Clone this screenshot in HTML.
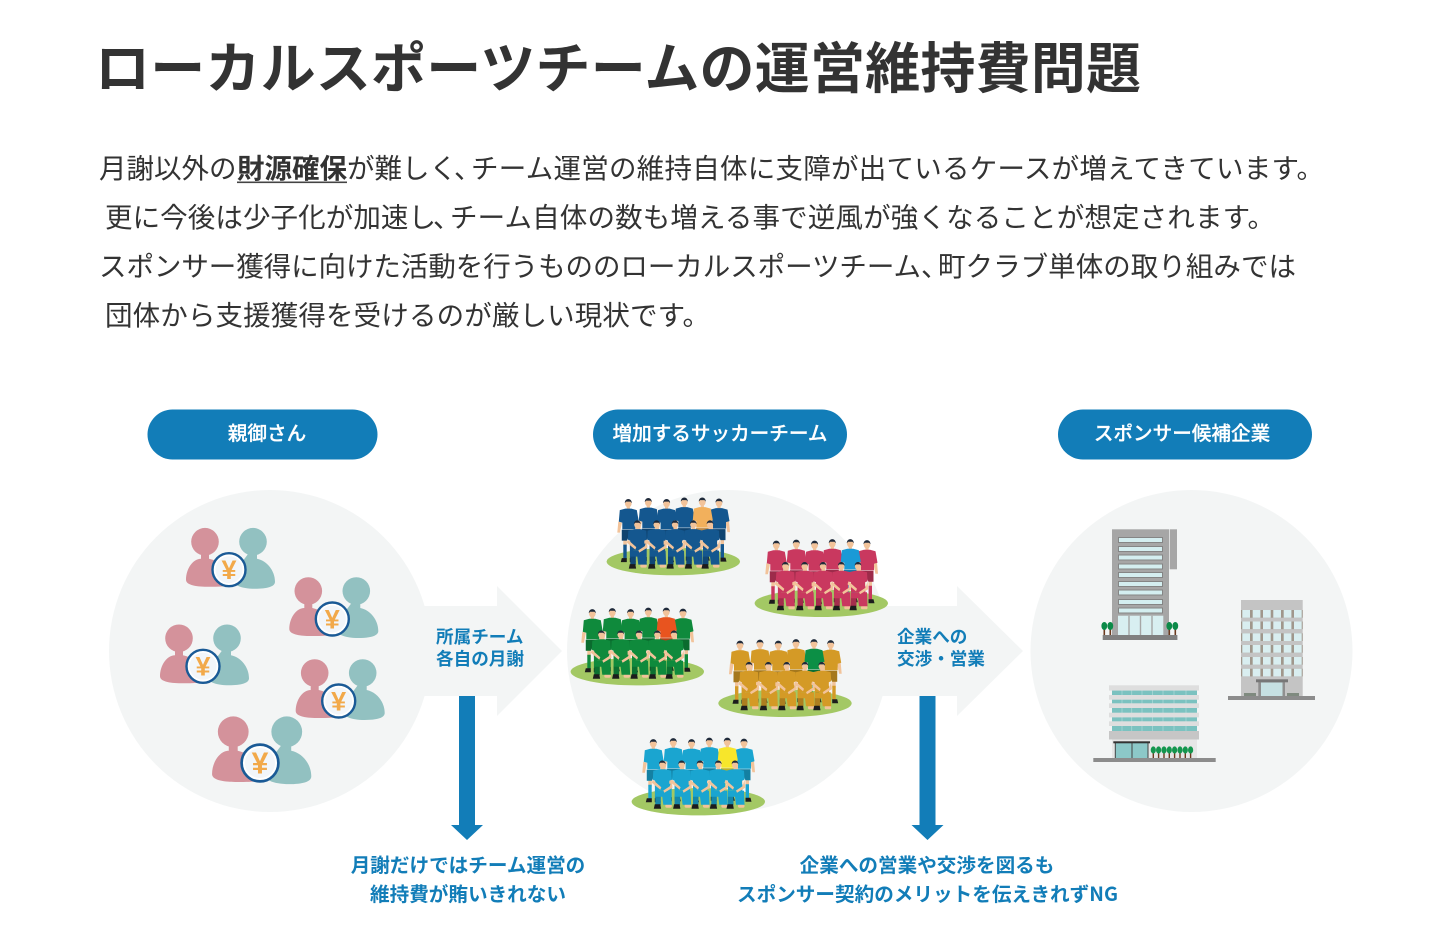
<!DOCTYPE html>
<html lang="ja"><head><meta charset="utf-8"><title>ローカルスポーツチームの運営維持費問題</title>
<style>
html,body{margin:0;padding:0;background:#fff;width:1440px;height:943px;overflow:hidden}
svg{display:block}
text{font-family:"Liberation Sans","Noto Sans CJK JP",sans-serif}
.t{font-size:55px;font-weight:700;fill:#333}
.b{font-size:27.5px;font-weight:400;fill:#333}
.bb{font-size:27.5px;font-weight:700;fill:#333}
.p{font-size:19.6px;font-weight:500;fill:#fff;stroke:#fff;stroke-width:.25;text-anchor:middle}
.a{font-size:17.6px;font-weight:700;fill:#127db8}
.c{font-size:19.6px;font-weight:700;fill:#127db8;text-anchor:middle}
.y{font-size:27px;font-weight:700;fill:#f2a94a;text-anchor:middle}
</style></head><body>
<svg width="1440" height="943" viewBox="0 0 1440 943" xmlns="http://www.w3.org/2000/svg">
<defs>
<symbol id="st" overflow="visible" viewBox="0 0 1 1" width="1" height="1">
  <path d="M-5-23h3.500v8H-5zM1.500-23H5v8H1.500z" fill="#f2c39a"/>
  <path d="M-5-17h3.400v14H-5zM1.600-17H5v14H1.600z" fill="currentColor"/>
  <path d="M-6.500-3.500h5V.5h-6zM1.500-3.500h5l1 4h-6z" fill="#1c1c1c"/>
  <path d="M-6.500-32h13v11h-5l-1.500-3-1.500 3h-5z" fill="currentColor"/>
  <path d="M-6.500-32h13v11h-5l-1.500-3-1.500 3h-5z" fill="#000" opacity=".22"/>
  <rect x="-1.600" y="-55" width="3.200" height="4" fill="#f2c39a"/>
  <path d="M-10-40l-1 11h2.600l2-10zM10-40l1 11H8.400l-2-10z" fill="#f2c39a"/>
  <path d="M-8.500-51.500L-3-53h6l5.500 1.500 2 11.500-3.500 1v6.500h-13V-39l-3.500-1z" fill="currentColor"/>
  <ellipse cx="0" cy="-58" rx="3.300" ry="3.800" fill="#f2c39a"/>
  <path d="M-3.500-58.500c0-5.500 7-5.500 7 0l-1.300-1.500h-4.400z" fill="#1f2a3a"/>
</symbol>
<symbol id="kn" overflow="visible" viewBox="0 0 1 1" width="1" height="1">
  <rect x="3" y="2.500" width="6.500" height="3.500" rx="1.600" fill="#f2c39a"/>
  <path d="M-7-6h5.500v9.500H-7z" fill="currentColor"/>
  <path d="M-7-6h5.500v9.500H-7z" fill="#000" opacity=".18"/>
  <path d="M-7.500 2.500h5.500l.8 4.500H-8.500z" fill="#1c1c1c"/>
  <path d="M-7-11H9l.5 14H1L0-5h-7z" fill="currentColor"/>
  <rect x="-1.500" y="-35" width="3" height="4" fill="#f2c39a"/>
  <path d="M-9-31l6-1.500h6l6 1.500.5 9-2.500 1v10H-7v-10l-2.500-1z" fill="currentColor"/>
  <path d="M-9.500-22L-1-14.500-2-12l-8.500-7zM9.500-22l.7 8-8.200 5-1-2.200 6.500-4.300z" fill="#f2c39a"/>
  <ellipse cx="0" cy="-37" rx="3.100" ry="3.600" fill="#f2c39a"/>
  <path d="M-3.300-37.500c0-5 6.600-5 6.600 0l-1.300-1.400h-4z" fill="#1f2a3a"/>
</symbol>
<g id="team">
  <use href="#st" x="-45" y="0"/><use href="#st" x="-25" y="-1"/><use href="#st" x="-6.700" y="0"/>
  <use href="#st" x="11" y="-1.500"/><use href="#st" x="45.700" y="-.5"/>
</g>
<g id="front">
  <use href="#kn" x="-36" y="0"/><use href="#kn" x="-16.700" y="0"/><use href="#kn" x="1.700" y="0"/>
  <use href="#kn" x="20" y="0"/><use href="#kn" x="36.700" y="0"/>
</g>
<symbol id="ppl" overflow="visible" viewBox="0 0 1 1" width="1" height="1">
  <circle cx="24" cy="-28" r="13.800" fill="#92c1c1"/>
  <path d="M20-17h8v6c10 2 18 12 18 23 0 5-8 7-20 7-14 0-24-4-24-12z" fill="#92c1c1"/>
  <circle cx="-24" cy="-28" r="13.800" fill="#d4929b"/>
  <path d="M-28-17h8v6c10 2 18 10 18 18v9c-4 1-12 1-20 1-12 0-21-2-21-7 0-11 7-21 15-21z" fill="#d4929b"/>
  <circle cx="0" cy="0" r="16.500" fill="#fff" stroke="#1a5a96" stroke-width="2.400"/>
  <circle cx="0" cy="0" r="13.500" fill="#f2f6fa"/>
</symbol>
</defs>

<text class="t" x="95" y="88" textLength="1046" lengthAdjust="spacing">ローカルスポーツチームの運営維持費問題</text>

<text class="b" x="99" y="178">月謝以外の</text>
<text class="bb" x="237" y="178" textLength="110">財源確保</text>
<rect x="237" y="181.500" width="110" height="1.600" fill="#444"/>
<text class="b" x="347" y="178" textLength="110">が難しく</text>
<text class="b" x="454" y="178">、</text>
<text class="b" x="471" y="178" textLength="853">チーム運営の維持自体に支障が出ているケースが増えてきています。</text>
<text class="b" x="105" y="227" textLength="331">更に今後は少子化が加速し</text>
<text class="b" x="433" y="227">、</text>
<text class="b" x="450" y="227" textLength="825">チーム自体の数も増える事で逆風が強くなることが想定されます。</text>
<text class="b" x="99" y="276" textLength="822">スポンサー獲得に向けた活動を行うもののローカルスポーツチーム</text>
<text class="b" x="921" y="276">、</text>
<text class="b" x="938" y="276" textLength="358">町クラブ単体の取り組みでは</text>
<text class="b" x="105" y="325" textLength="605">団体から支援獲得を受けるのが厳しい現状です。</text>

<rect x="147.500" y="409.500" width="230" height="50" rx="25" fill="#127db8"/>
<rect x="593" y="409.500" width="254" height="50" rx="25" fill="#127db8"/>
<rect x="1058" y="409.500" width="254" height="50" rx="25" fill="#127db8"/>
<text class="p" x="267" y="440">親御さん</text>
<text class="p" x="720" y="440">増加するサッカーチーム</text>
<text class="p" x="1182" y="440">スポンサー候補企業</text>

<g fill="#f3f5f5">
<circle cx="270" cy="651" r="161"/><circle cx="728" cy="651" r="161"/><circle cx="1191.500" cy="651" r="161"/>
<path d="M420 606h77v-20l65 65-65 65v-20h-77z"/>
<path d="M880 606h77v-20l66 65-66 65v-20h-77z"/>
</g>

<!-- people -->
<use href="#ppl" x="229" y="569.700"/><text class="y" x="229" y="579">¥</text>
<use href="#ppl" x="332.300" y="619"/><text class="y" x="332.300" y="628.300">¥</text>
<use href="#ppl" x="203" y="666.300"/><text class="y" x="203" y="675.600">¥</text>
<use href="#ppl" x="338.700" y="701"/><text class="y" x="338.700" y="710.300">¥</text>
<g transform="translate(260 763) scale(1.115)"><use href="#ppl"/><text class="y" x="0" y="9.300">¥</text></g>

<!-- arrow text -->
<text class="a" x="436" y="643">所属チーム</text>
<text class="a" x="436" y="665">各自の月謝</text>
<text class="a" x="897" y="643">企業への</text>
<text class="a" x="897" y="665">交渉・営業</text>

<!-- blue arrows -->
<path d="M459 696h16v129h8l-16 15-16-15h8z" fill="#127db8"/>
<path d="M919.500 696h16v129h8l-16 15-16-15h8z" fill="#127db8"/>
<text class="c" x="468" y="872">月謝だけではチーム運営の</text>
<text class="c" x="468" y="901">維持費が賄いきれない</text>
<text class="c" x="927" y="872">企業への営業や交渉を図るも</text>
<text class="c" x="927.500" y="901" textLength="381" lengthAdjust="spacing" text-anchor="middle" style="font-family:'Noto Sans CJK JP',sans-serif">スポンサー契約のメリットを伝えきれずNG</text>

<!-- teams -->
<g transform="translate(673.300 561.600)" style="color:#14578f">
  <ellipse rx="66.700" ry="13.700" fill="#a3c864"/>
  <use href="#team"/><use href="#st" x="29" y="-1.500" style="color:#f2b05c"/><use href="#front"/>
</g>
<g transform="translate(821.300 603.300)" style="color:#c9385f">
  <ellipse rx="66.700" ry="13.700" fill="#a3c864"/>
  <use href="#team"/><use href="#st" x="29" y="-1.500" style="color:#1a9ad6"/><use href="#front"/>
</g>
<g transform="translate(637.300 671.700)" style="color:#0f8a3c">
  <ellipse rx="66.700" ry="13.700" fill="#a3c864"/>
  <use href="#team"/><use href="#st" x="29" y="-1.500" style="color:#e8541f"/><use href="#front"/>
</g>
<g transform="translate(785 703.300)" style="color:#d49a26">
  <ellipse rx="66.700" ry="13.700" fill="#a3c864"/>
  <use href="#team"/><use href="#st" x="29" y="-1.500" style="color:#0c8f45"/><use href="#front"/>
</g>
<g transform="translate(698.300 801.700)" style="color:#1aa5d0">
  <ellipse rx="66.700" ry="13.700" fill="#a3c864"/>
  <use href="#team"/><use href="#st" x="29" y="-1.500" style="color:#f7e62b"/><use href="#front"/>
</g>

<!-- building 1 -->
<g>
<rect x="1112" y="529.300" width="57" height="106" fill="#a6a6a6"/>
<rect x="1169.700" y="529.300" width="7.300" height="40" fill="#a6a6a6"/>
<g fill="#d4eef0" stroke="#858585" stroke-width="1">
<rect x="1118.500" y="537.500" width="44" height="5"/><rect x="1118.500" y="546.500" width="44" height="5"/>
<rect x="1118.500" y="555" width="44" height="5"/><rect x="1118.500" y="564" width="44" height="5"/>
<rect x="1118.500" y="572.500" width="44" height="5"/><rect x="1118.500" y="581.500" width="44" height="5"/>
<rect x="1118.500" y="590" width="44" height="5"/><rect x="1118.500" y="599.500" width="44" height="5"/>
<rect x="1118.500" y="608" width="44" height="5"/>
</g>
<rect x="1118" y="615.700" width="45.300" height="19.300" fill="#d8eff1"/>
<path d="M1129 615.700v19.300M1140.500 615.700v19.300M1152 615.700v19.300" stroke="#a6a6a6" stroke-width="1.400"/>
<path d="M1104.300 628v7M1110.300 628v7M1169.300 628v7M1175.300 628v7" stroke="#6b3a1e" stroke-width="1.600"/>
<g fill="#0b8a48"><ellipse cx="1104.300" cy="626" rx="2.900" ry="4"/><ellipse cx="1110.300" cy="626" rx="2.900" ry="4"/><ellipse cx="1169.300" cy="626" rx="2.900" ry="4"/><ellipse cx="1175.300" cy="626" rx="2.900" ry="4"/></g>
<rect x="1102.700" y="635" width="74.700" height="5" fill="#808080"/>
</g>

<!-- building 2 -->
<g>
<rect x="1241" y="600" width="61.700" height="96" fill="#c4c4c4"/>
<g fill="#a0978c">
<rect x="1241" y="610" width="61.700" height="7.700"/><rect x="1241" y="621.500" width="61.700" height="7.700"/><rect x="1241" y="633.300" width="61.700" height="7.700"/><rect x="1241" y="645" width="61.700" height="7.700"/><rect x="1241" y="657" width="61.700" height="7.700"/><rect x="1241" y="668.700" width="61.700" height="7.700"/>
</g>
<g fill="#d9eef0">
<rect x="1242.300" y="610" width="7.700" height="7.700"/><rect x="1252.700" y="610" width="7.700" height="7.700"/><rect x="1263" y="610" width="7.700" height="7.700"/><rect x="1273.300" y="610" width="7.700" height="7.700"/><rect x="1283.700" y="610" width="7.700" height="7.700"/><rect x="1294" y="610" width="7.700" height="7.700"/>
<rect x="1242.300" y="621.500" width="7.700" height="7.700"/><rect x="1252.700" y="621.500" width="7.700" height="7.700"/><rect x="1263" y="621.500" width="7.700" height="7.700"/><rect x="1273.300" y="621.500" width="7.700" height="7.700"/><rect x="1283.700" y="621.500" width="7.700" height="7.700"/><rect x="1294" y="621.500" width="7.700" height="7.700"/>
<rect x="1242.300" y="633.300" width="7.700" height="7.700"/><rect x="1252.700" y="633.300" width="7.700" height="7.700"/><rect x="1263" y="633.300" width="7.700" height="7.700"/><rect x="1273.300" y="633.300" width="7.700" height="7.700"/><rect x="1283.700" y="633.300" width="7.700" height="7.700"/><rect x="1294" y="633.300" width="7.700" height="7.700"/>
<rect x="1242.300" y="645" width="7.700" height="7.700"/><rect x="1252.700" y="645" width="7.700" height="7.700"/><rect x="1263" y="645" width="7.700" height="7.700"/><rect x="1273.300" y="645" width="7.700" height="7.700"/><rect x="1283.700" y="645" width="7.700" height="7.700"/><rect x="1294" y="645" width="7.700" height="7.700"/>
<rect x="1242.300" y="657" width="7.700" height="7.700"/><rect x="1252.700" y="657" width="7.700" height="7.700"/><rect x="1263" y="657" width="7.700" height="7.700"/><rect x="1273.300" y="657" width="7.700" height="7.700"/><rect x="1283.700" y="657" width="7.700" height="7.700"/><rect x="1294" y="657" width="7.700" height="7.700"/>
<rect x="1242.300" y="668.700" width="7.700" height="7.700"/><rect x="1252.700" y="668.700" width="7.700" height="7.700"/><rect x="1263" y="668.700" width="7.700" height="7.700"/><rect x="1273.300" y="668.700" width="7.700" height="7.700"/><rect x="1283.700" y="668.700" width="7.700" height="7.700"/><rect x="1294" y="668.700" width="7.700" height="7.700"/>
</g>
<rect x="1258.300" y="682" width="26.700" height="14" fill="#8f8f8f"/>
<rect x="1261" y="682.500" width="21.500" height="13.500" fill="#c6e0e2"/>
<rect x="1256" y="679.300" width="32" height="3" fill="#777"/>
<rect x="1244" y="693" width="12" height="3" fill="#7f8a7f"/><rect x="1287" y="693" width="12" height="3" fill="#7f8a7f"/>
<rect x="1228" y="696" width="87" height="4" fill="#8c8c8c"/>
</g>

<!-- building 3 -->
<g>
<rect x="1112" y="688" width="85" height="43" fill="#7bc2c0"/>
<path d="M1122 688v43M1131.700 688v43M1142 688v43M1152.500 688v43M1163 688v43M1174 688v43M1186 688v43" stroke="#a9d8d6" stroke-width=".8"/>
<g fill="#dedede">
<rect x="1109" y="685.300" width="90" height="5.300"/><rect x="1109" y="695" width="90" height="4.700"/>
<rect x="1109" y="703.300" width="90" height="4.700"/><rect x="1109" y="712.700" width="90" height="4.700"/>
<rect x="1109" y="721.300" width="90" height="4.700"/>
</g>
<rect x="1109" y="731" width="90" height="8.500" fill="#c6c6c6"/>
<rect x="1112" y="739.500" width="85" height="18.500" fill="#e6e6e6"/>
<rect x="1115.300" y="743" width="32.700" height="15" fill="#8cc8c8"/>
<path d="M1115.300 743v15M1132 743v15M1148 743v15" stroke="#444" stroke-width="1"/>
<rect x="1113.300" y="741.300" width="36.700" height="2" fill="#333"/>
<path d="M1153.300 752v6M1158.600 752v6M1164 752v6M1169.300 752v6M1174.600 752v6M1180 752v6M1185.300 752v6M1190.600 752v6" stroke="#6b3a1e" stroke-width="1.400"/>
<g fill="#14964e">
<ellipse cx="1153.300" cy="750" rx="2.600" ry="3.600"/><ellipse cx="1158.600" cy="750" rx="2.600" ry="3.600"/><ellipse cx="1164" cy="750" rx="2.600" ry="3.600"/><ellipse cx="1169.300" cy="750" rx="2.600" ry="3.600"/><ellipse cx="1174.600" cy="750" rx="2.600" ry="3.600"/><ellipse cx="1180" cy="750" rx="2.600" ry="3.600"/><ellipse cx="1185.300" cy="750" rx="2.600" ry="3.600"/><ellipse cx="1190.600" cy="750" rx="2.600" ry="3.600"/>
</g>
<rect x="1093.300" y="758" width="122.400" height="4" fill="#8c8c8c"/>
</g>
</svg>
</body></html>
